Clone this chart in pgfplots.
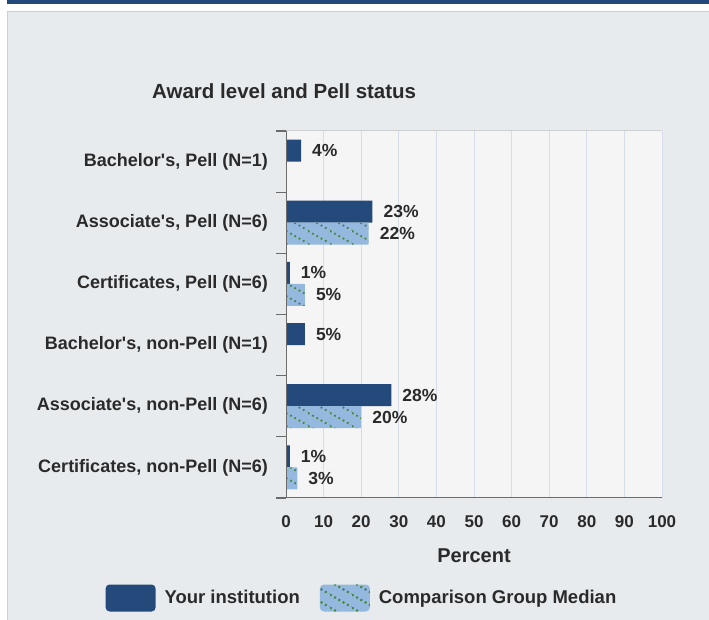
\documentclass[border=0pt]{standalone}
\usepackage{fontspec}
\setmainfont{Liberation Sans}
\newfontfamily\cf{Liberation Sans}
\usepackage{pgfplots}
\pgfplotsset{compat=1.18}
\usetikzlibrary{patterns.meta}

\definecolor{navy}{HTML}{234A7A}
\definecolor{lightb}{HTML}{95B8DE}
\definecolor{dotg}{HTML}{45893F}
\definecolor{panel}{HTML}{E8EBEE}
\definecolor{plotbg}{HTML}{F5F5F5}
\definecolor{gridc}{HTML}{D6DCE8}
\definecolor{axc}{HTML}{6B6B6B}
\definecolor{txt}{HTML}{2A2A2A}
\definecolor{bordc}{HTML}{CFCFCF}

% dotted diagonal hatch of the comparison bars
\tikzdeclarepattern{
  name=dotdiag,
  type=uncolored,
  bounding box={(0,0) and (22pt,13pt)},
  tile size={(22pt,13pt)},
  code={
    \draw[line width=2pt, dash pattern=on 1.8pt off 3.3pt] (0pt,13pt) -- (22pt,0pt);
  }
}

\begin{document}
\begin{tikzpicture}[x=1pt,y=1pt]
\useasboundingbox (0,0) rectangle (709,620);
\fill[white] (0,0) rectangle (709,620);
\fill[navy] (7,616) rectangle (709,620);
\fill[panel] (7,0) rectangle (709,609);
\draw[bordc, line width=1.5pt] (7,608.5) -- (709,608.5);
\draw[bordc, line width=1pt] (7.5,0) -- (7.5,609);
\node[anchor=west, inner sep=0pt, text=txt, font=\cf\bfseries\fontsize{20.5}{24}\selectfont]
  at (152,529) {Award level and Pell status};

\begin{axis}[
    at={(286pt,122pt)}, anchor=south west,
    scale only axis, width=376pt, height=367pt,
    xbar, bar width=22pt,
    xmin=0, xmax=100, ymin=-0.5, ymax=5.5,
    /pgf/number format/assume math mode=true,
    axis background/.style={fill=plotbg},
    axis line style={draw=none},
    tick pos=left, tick align=outside,
    xtick={0,10,...,100},
    xmajorgrids, grid style={gridc, line width=1pt},
    ytick={0,...,5},
    yticklabels={{Certificates, non-Pell (N=6)},{Associate's, non-Pell (N=6)},{Bachelor's, non-Pell (N=1)},
                 {Certificates, Pell (N=6)},{Associate's, Pell (N=6)},{Bachelor's, Pell (N=1)}},
    minor ytick={-0.5,0.5,...,5.5},
    major tick length=0pt, minor tick length=10pt,
    every minor y tick/.style={axc, line width=1.2pt},
    yticklabel style={font=\cf\bfseries\fontsize{18}{21}\selectfont, text=txt, inner sep=0pt, xshift=-18pt},
    xticklabel style={font=\cf\bfseries\fontsize{17}{20}\selectfont, text=txt, inner sep=0pt, yshift=-17pt},
    xlabel={Percent},
    xlabel style={at={(axis description cs:0.5,-0.158)}, anchor=center,
                  font=\cf\bfseries\fontsize{20}{24}\selectfont, text=txt},
    point meta=x,
    nodes near coords={\pgfmathprintnumber{\pgfplotspointmeta}\%},
    every node near coord/.append style={font=\cf\bfseries\fontsize{17.5}{20}\selectfont,
                  text=txt, inner sep=0pt, xshift=11pt},
    legend columns=2,
    legend style={at={(0.202,-0.2725)}, anchor=center, draw=none, fill=none, inner sep=0pt,
                  font=\cf\bfseries\fontsize{18.5}{22}\selectfont, text=txt,
                  /tikz/every odd column/.append style={column sep=7pt},
                  /tikz/every even column/.append style={column sep=18pt}},
    legend cell align=left,
]
\addplot[fill=navy, draw=none, bar shift=11pt,
    legend image code/.code={\fill[navy, rounded corners=4pt] (0pt,-13.5pt) rectangle (50pt,13.5pt);}]
coordinates {(4,5) (23,4) (1,3) (5,2) (28,1) (1,0)};
\addlegendentry{Your institution}
\addplot[fill=lightb, draw=none, bar shift=-11pt,
    postaction={pattern=dotdiag, pattern color=dotg},
    legend image code/.code={\fill[lightb, rounded corners=4pt,
        postaction={pattern=dotdiag, pattern color=dotg}] (0pt,-13.5pt) rectangle (50pt,13.5pt);}]
coordinates {(22,4) (5,3) (20,1) (3,0)};
\addlegendentry{Comparison Group Median}
\draw[bordc, line width=1pt] (rel axis cs:0,1) -- (rel axis cs:1,1);
\draw[axc, line width=1.5pt] (rel axis cs:0,1) -- (rel axis cs:0,0) -- (rel axis cs:1,0);
\end{axis}
\end{tikzpicture}
\end{document}
